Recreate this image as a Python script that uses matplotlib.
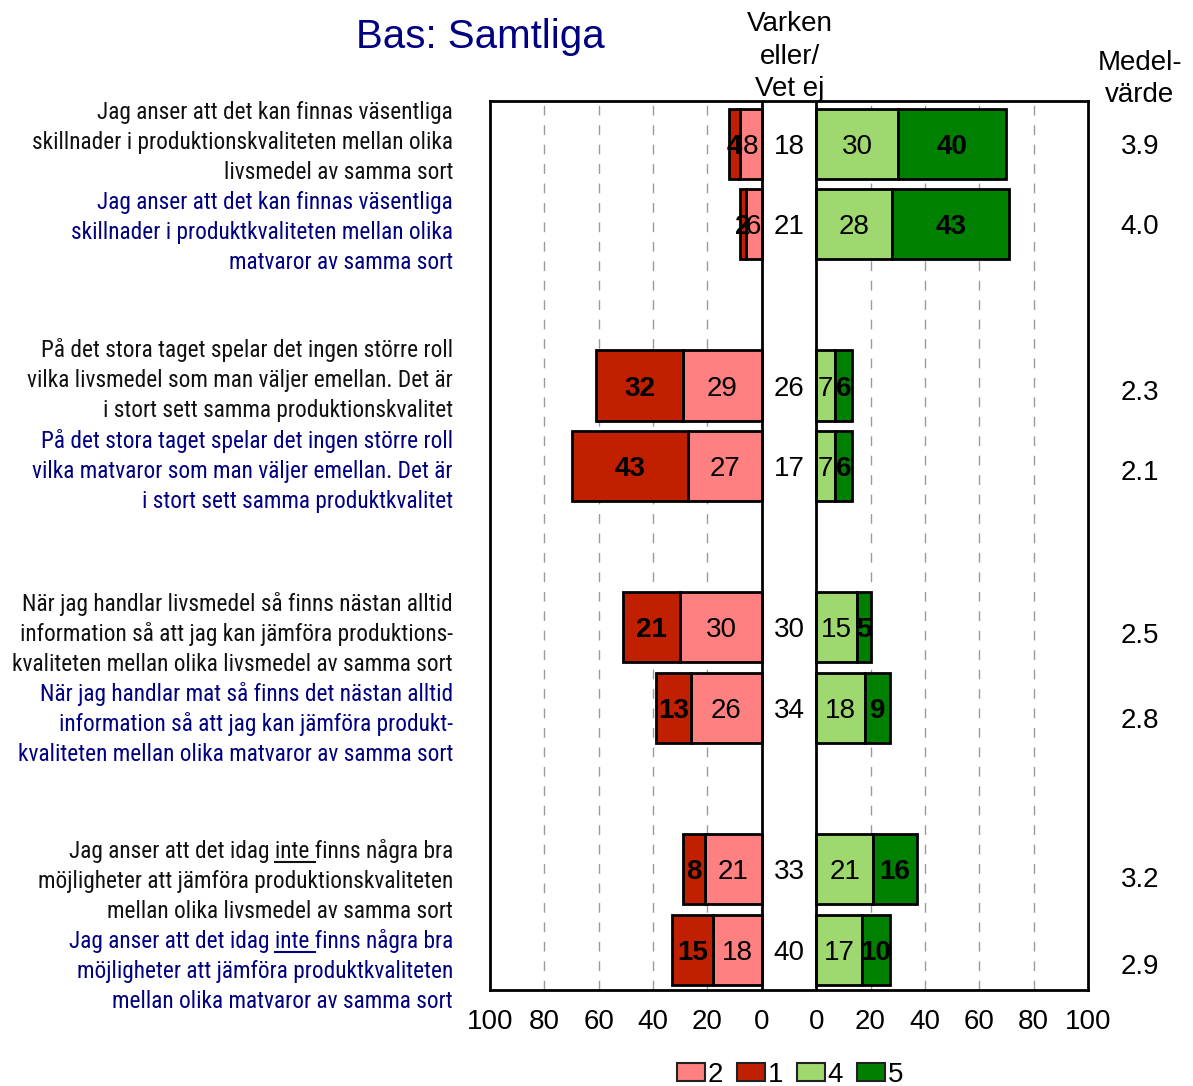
import matplotlib
matplotlib.use("Agg")
import matplotlib.pyplot as plt
from matplotlib import font_manager
from matplotlib.patches import Patch
import numpy as np

# ---------------- data ----------------
questions_black = [
    ["Jag anser att det kan finnas väsentliga",
     "skillnader i produktionskvaliteten mellan olika",
     "livsmedel av samma sort"],
    ["På det stora taget spelar det ingen större roll",
     "vilka livsmedel som man väljer emellan. Det är",
     "i stort sett samma produktionskvalitet"],
    ["När jag handlar livsmedel så finns nästan alltid",
     "information så att jag kan jämföra produktions-",
     "kvaliteten mellan olika livsmedel av samma sort"],
    ["Jag anser att det idag inte finns några bra",
     "möjligheter att jämföra produktionskvaliteten",
     "mellan olika livsmedel av samma sort"],
]
questions_blue = [
    ["Jag anser att det kan finnas väsentliga",
     "skillnader i produktkvaliteten mellan olika",
     "matvaror av samma sort"],
    ["På det stora taget spelar det ingen större roll",
     "vilka matvaror som man väljer emellan. Det är",
     "i stort sett samma produktkvalitet"],
    ["När jag handlar mat så finns det nästan alltid",
     "information så att jag kan jämföra produkt-",
     "kvaliteten mellan olika matvaror av samma sort"],
    ["Jag anser att det idag inte finns några bra",
     "möjligheter att jämföra produktkvaliteten",
     "mellan olika matvaror av samma sort"],
]
cat1 = [4, 2, 32, 43, 21, 13, 8, 15]
cat2 = [8, 6, 29, 27, 30, 26, 21, 18]
neither = [18, 21, 26, 17, 30, 34, 33, 40]
cat4 = [30, 28, 7, 7, 15, 18, 21, 17]
cat5 = [40, 43, 6, 6, 5, 9, 16, 10]
means = [3.9, 4.0, 2.3, 2.1, 2.5, 2.8, 3.2, 2.9]
tick_labels = ["100", "80", "60", "40", "20", "0", "0", "20", "40", "60", "80", "100"]
legend_labels = ["2", "1", "4", "5"]

# ---------------- style / layout ----------------
C1, C2, C4, C5 = "#C02000", "#FF8080", "#A0D870", "#008000"
NAVY = "#000080"
GAP = 20
W, H = 1193, 1086
ypos = np.array([0, 1, 3, 4, 6, 7, 9, 10])

def fx(p):
    return p / W

def fy(p):
    return 1 - p / H

SANS = "Liberation Sans"
names = sorted({f.name for f in font_manager.fontManager.ttflist})
NARROW = SANS
for cand in ["Liberation Sans Narrow", "Arial Narrow", "Roboto Condensed",
             "Open Sans Condensed", "Noto Sans Condensed"]:
    if cand in names:
        NARROW = cand
        break
plt.rcParams["font.family"] = [SANS, "DejaVu Sans"]

fig = plt.figure(figsize=(W / 100, H / 100), dpi=100)
ax = fig.add_axes([fx(490), fy(990), (1088 - 490) / W, (990 - 101) / H])
renderer = fig.canvas.get_renderer()

c1 = np.array(cat1); c2 = np.array(cat2); c4 = np.array(cat4); c5 = np.array(cat5)
bh = 0.87
kw = dict(height=bh, edgecolor="black", linewidth=2, zorder=3)
ax.barh(ypos, -c2, left=0, color=C2, **kw)
ax.barh(ypos, -c1, left=-c2, color=C1, **kw)
ax.barh(ypos, c4, left=GAP, color=C4, **kw)
ax.barh(ypos, c5, left=GAP + c4, color=C5, **kw)

fs = 20
tk = dict(ha="center", va="center_baseline", fontsize=fs, zorder=4)
for i, y in enumerate(ypos):
    ax.text(-c2[i] / 2, y, str(c2[i]), **tk)
    ax.text(-c2[i] - c1[i] / 2, y, str(c1[i]), fontweight="bold", **tk)
    ax.text(GAP / 2, y, str(neither[i]), **tk)
    ax.text(GAP + c4[i] / 2, y, str(c4[i]), **tk)
    ax.text(GAP + c4[i] + c5[i] / 2, y, str(c5[i]), fontweight="bold", **tk)

ax.set_xlim(-100, 100 + GAP)
ax.set_ylim(10.5, -0.53)
for v in [-80, -60, -40, -20, GAP + 20, GAP + 40, GAP + 60, GAP + 80]:
    ax.axvline(v, color="#9a9a9a", linestyle=(0, (7, 7)), linewidth=1, zorder=1)
ax.axvline(0, color="black", linewidth=2, zorder=5)
ax.axvline(GAP, color="black", linewidth=2, zorder=5)
ax.axvspan(0, GAP, color="white", zorder=2)
tick_pos = list(range(-100, 1, 20)) + list(range(GAP, GAP + 101, 20))
ax.set_xticks(tick_pos)
ax.set_xticklabels(tick_labels, fontsize=fs)
ax.tick_params(axis="x", length=0, pad=14)
ax.set_yticks([])
for s in ax.spines.values():
    s.set_linewidth(2)

# title and headers
fig.text(fx(480), fy(33), "Bas: Samtliga", color=NAVY, fontsize=29, ha="center", va="center_baseline")
for t, yy in zip(["Varken", "eller/", "Vet ej"], [21, 54, 86]):
    fig.text(fx(790), fy(yy), t, fontsize=fs, ha="center", va="center_baseline")
for t, yy in zip(["Medel-", "värde"], [60, 92]):
    fig.text(fx(1140), fy(yy), t, fontsize=fs, ha="center", va="center_baseline")
mean_y = [144, 224, 390, 470, 633, 718, 877, 964]
for m, yy in zip(means, mean_y):
    fig.text(fx(1140), fy(yy), f"{m:.1f}", fontsize=fs, ha="center", va="center_baseline")

# question text: fit font size so the widest line matches the reference width
probe = fig.text(0, 0, "kvaliteten mellan olika livsmedel av samma sort", fontsize=17, family=NARROW)
pw = probe.get_window_extent(renderer).width
probe.remove()
qfs = 17 * 442.0 / pw

black_top = [112, 350, 604, 851]
blue_top = [202, 441, 694, 941]
RX = 453

def draw_lines(lines, top, color):
    for k, line in enumerate(lines):
        yb = top + 30 * k + 7
        fig.text(fx(RX), fy(yb), line, fontsize=qfs, family=NARROW, color=color,
                 ha="right", va="baseline")
        if " inte " in line:
            suf1 = line[line.index("inte "):]
            suf2 = line[line.index("inte ") + 5:]
            t1 = fig.text(0, 0, suf1, fontsize=qfs, family=NARROW)
            t2 = fig.text(0, 0, suf2, fontsize=qfs, family=NARROW)
            w1 = t1.get_window_extent(renderer).width
            w2 = t2.get_window_extent(renderer).width
            t1.remove(); t2.remove()
            fig.add_artist(plt.Line2D([fx(RX - w1), fx(RX - w2)], [fy(yb + 4), fy(yb + 4)],
                                      color=color, linewidth=1.5, transform=fig.transFigure))

for g in range(4):
    draw_lines(questions_black[g], black_top[g], "#111111")
    draw_lines(questions_blue[g], blue_top[g], NAVY)

# legend
handles = [Patch(facecolor=c, edgecolor="#222222", linewidth=1.5) for c in [C2, C1, C4, C5]]
fig.legend(handles, legend_labels, loc="center", bbox_to_anchor=(fx(790), fy(1075)), ncol=4,
           frameon=False, fontsize=fs, handlelength=1.0, handleheight=0.6,
           handletextpad=0.1, columnspacing=0.5, borderpad=0)

fig.savefig("out.png", dpi=100, facecolor="white")
